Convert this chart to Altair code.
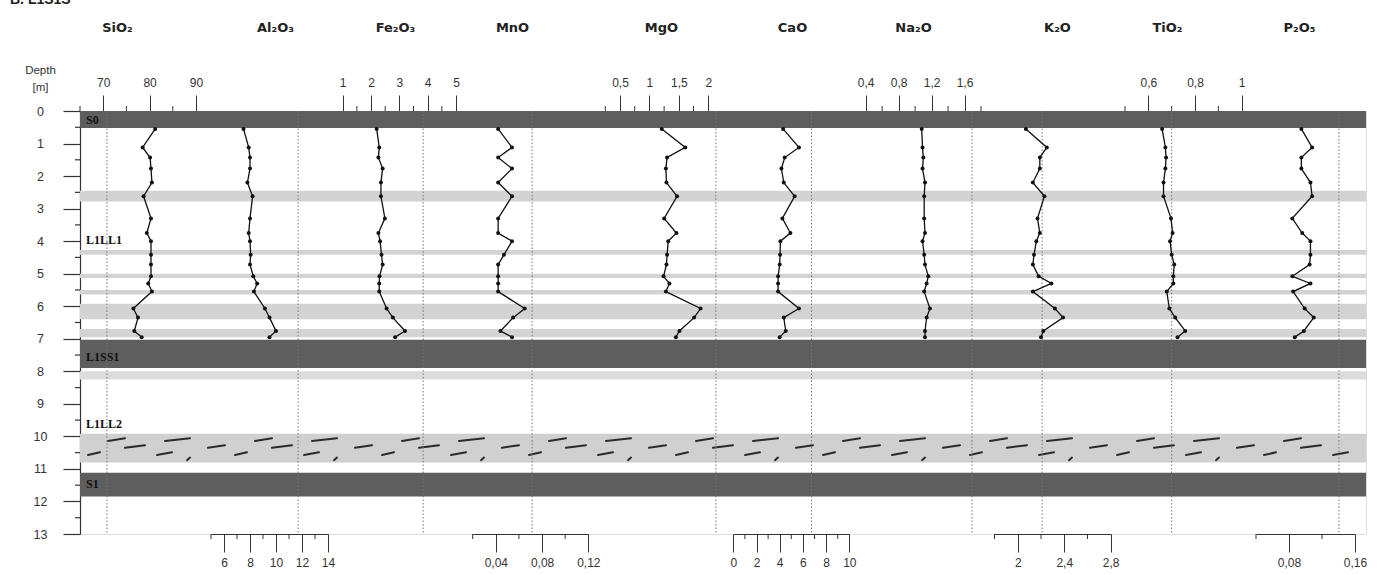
import altair as alt
import pandas as pd

# ------------------------------------------------------------------ data
DEPTHS = [0.55, 1.12, 1.43, 1.77, 2.2, 2.62, 3.3, 3.75, 4.0, 4.42, 4.72, 5.08, 5.3, 5.55, 6.07, 6.35, 6.76, 6.95]

SIO2 = [81.2, 78.5, 80.1, 80.3, 80.5, 78.7, 80.3, 79.4, 80.3, 80.3, 80.3, 80.3, 79.7, 80.5, 76.5, 77.5, 76.7, 78.3]
AL2O3 = [7.5, 7.9, 8.0, 8.0, 7.8, 8.2, 8.0, 7.9, 8.0, 8.05, 8.0, 8.25, 8.55, 8.3, 9.15, 9.5, 10.0, 9.5]
FE2O3 = [2.2, 2.29, 2.26, 2.41, 2.35, 2.35, 2.49, 2.26, 2.32, 2.37, 2.41, 2.3, 2.29, 2.29, 2.55, 2.77, 3.2, 2.85]
MNO = [0.042, 0.054, 0.042, 0.054, 0.042, 0.054, 0.042, 0.042, 0.054, 0.047, 0.042, 0.042, 0.042, 0.042, 0.065, 0.055, 0.044, 0.054]
MGO = [1.21, 1.61, 1.30, 1.28, 1.29, 1.47, 1.25, 1.46, 1.32, 1.30, 1.29, 1.24, 1.34, 1.28, 1.87, 1.76, 1.51, 1.45]
CAO = [4.29, 5.66, 4.43, 4.15, 4.35, 5.29, 4.23, 4.92, 4.06, 4.03, 4.0, 3.86, 3.86, 3.86, 5.66, 4.35, 4.52, 4.0]
NA2O = [1.08, 1.09, 1.10, 1.09, 1.12, 1.11, 1.11, 1.12, 1.09, 1.11, 1.12, 1.16, 1.14, 1.11, 1.18, 1.14, 1.12, 1.12]
K2O = [2.07, 2.25, 2.19, 2.19, 2.13, 2.23, 2.17, 2.19, 2.16, 2.14, 2.13, 2.18, 2.29, 2.13, 2.32, 2.39, 2.22, 2.20]
TIO2 = [0.659, 0.673, 0.676, 0.673, 0.665, 0.665, 0.697, 0.704, 0.693, 0.70, 0.711, 0.707, 0.707, 0.679, 0.690, 0.715, 0.758, 0.725]
P2O5 = [0.095, 0.108, 0.095, 0.095, 0.106, 0.108, 0.084, 0.096, 0.106, 0.106, 0.105, 0.084, 0.106, 0.085, 0.099, 0.110, 0.098, 0.087]

# reference (dotted) values per oxide
REF_VALUES = [70.8, 11.7, 3.84, 0.0714, 2.13, 6.74, 1.69, 2.21, 0.70, 0.1405]

# stratigraphic bands
BAND_TOP = [0.0, 2.45, 4.27, 5.0, 5.5, 5.92, 6.7, 7.03, 8.0, 9.92, 11.12]
BAND_BOTTOM = [0.52, 2.78, 4.42, 5.13, 5.64, 6.4, 6.95, 7.9, 8.25, 10.8, 11.85]
BAND_KIND = ["paleosol", "loess", "loess", "loess", "loess", "loess", "loess",
             "paleosol", "pale", "loam", "paleosol"]

LABEL_NAMES = ["S0", "L1LL1", "L1SS1", "L1LL2", "S1"]
LABEL_DEPTHS = [0.28, 3.95, 7.55, 9.63, 11.46]

DEPTH_MAJOR = list(range(14))
DEPTH_MINOR = [0.5, 1.5, 2.5, 3.5, 4.5, 5.5, 6.5, 7.5, 8.5, 9.5, 10.5, 11.5, 12.5]

HEADER = ["B. L1S1S"]

# ------------------------------------------------------------------ layout
LEFT, TOP, W, H = 80, 111, 1286, 423

OXIDES = [
    dict(title="SiO₂", values=SIO2, domain=[65, 90], px=[80, 196], major=[70, 80, 90], minor=[65, 75, 85], orient="top", tx=117),
    dict(title="Al₂O₃", values=AL2O3, domain=[5, 14], px=[211, 328], major=[6, 8, 10, 12, 14], minor=[5, 7, 9, 11, 13], orient="bottom", tx=275),
    dict(title="Fe₂O₃", values=FE2O3, domain=[1, 5], px=[342.7, 456], major=[1, 2, 3, 4, 5], minor=[1.5, 2.5, 3.5, 4.5], orient="top", tx=395),
    dict(title="MnO", values=MNO, domain=[0.02, 0.12], px=[472.7, 588.3], major=[0.04, 0.08, 0.12], minor=[0.02, 0.06, 0.10], orient="bottom", tx=512),
    dict(title="MgO", values=MGO, domain=[0.25, 2.2], px=[605.3, 720], major=[0.5, 1, 1.5, 2], minor=[0.25, 0.75, 1.25, 1.75], orient="top", tx=661),
    dict(title="CaO", values=CAO, domain=[0, 10], px=[733.3, 849.3], major=[0, 2, 4, 6, 8, 10], minor=[1, 3, 5, 7, 9], orient="bottom", tx=792),
    dict(title="Na₂O", values=NA2O, domain=[0.4, 1.8], px=[865.7, 981], major=[0.4, 0.8, 1.2, 1.6], minor=[0.6, 1.0, 1.4, 1.8], orient="top", tx=913),
    dict(title="K₂O", values=K2O, domain=[1.8, 2.8], px=[994.5, 1110.7], major=[2, 2.4, 2.8], minor=[1.8, 2.2, 2.6], orient="bottom", tx=1057),
    dict(title="TiO₂", values=TIO2, domain=[0.5, 1.0], px=[1125, 1241.7], major=[0.6, 0.8, 1], minor=[0.5, 0.7, 0.9], orient="top", tx=1167),
    dict(title="P₂O₅", values=P2O5, domain=[0.04, 0.16], px=[1256, 1355], major=[0.08, 0.16], minor=[0.04, 0.12], orient="bottom", tx=1299),
]

FONT = "Liberation Sans"
TITLE_FONT = "DejaVu Sans"
INK = "#222222"
YSCALE = alt.Scale(domain=[0, 13], reverse=True, nice=False, zero=False)


def oxide_layers(cfg, ref):
    top = cfg["orient"] == "top"

    def xs():
        return alt.Scale(domain=cfg["domain"], range=[cfg["px"][0] - LEFT, cfg["px"][1] - LEFT],
                         nice=False, zero=False)

    axis = alt.Axis(
        orient=cfg["orient"], values=cfg["major"],
        labelExpr="replace(format(datum.value, '~r'), '.', ',')",
        tickSize=16 if top else 18, labelPadding=6 if top else 5,
        domainColor="#333", tickColor="#333", domainWidth=1, tickWidth=1,
        labelColor="#333", labelFontSize=12, labelFont=FONT,
        labelFlush=False, labelOverlap=False, grid=False,
        title=cfg["title"], titleX=cfg["tx"] - LEFT,
        titleY=(27 - TOP) if top else (27 - TOP - H),
        titleAlign="center", titleBaseline="middle", titleAngle=0,
        titleFontSize=13, titleFontWeight="bold", titleColor=INK, titleFont=TITLE_FONT,
    )
    df = pd.DataFrame({"depth": DEPTHS, "value": cfg["values"]})
    refdf = pd.DataFrame({"value": [ref], "d0": [0], "d1": [13]})
    refline = alt.Chart(refdf).mark_rule(color="#777", strokeDash=[1.5, 2], strokeWidth=1).encode(
        x=alt.X("value:Q", scale=xs(), axis=None),
        y=alt.Y("d0:Q", scale=YSCALE, axis=None),
        y2="d1:Q",
    )
    line = alt.Chart(df).mark_line(color="#111", strokeWidth=1.3).encode(
        x=alt.X("value:Q", scale=xs(), axis=axis),
        y=alt.Y("depth:Q", scale=YSCALE, axis=None),
        order="depth:Q",
    )
    pts = alt.Chart(df).mark_circle(color="#111", size=16, opacity=1).encode(
        x=alt.X("value:Q", scale=xs(), axis=None),
        y=alt.Y("depth:Q", scale=YSCALE, axis=None),
    )
    mdf = pd.DataFrame({"value": cfg["minor"]})
    minor = alt.Chart(mdf).mark_rule(color="#333", strokeWidth=1).encode(
        x=alt.X("value:Q", scale=xs(), axis=None),
        y=alt.value(0 if top else H),
        y2=alt.value(-5 if top else H + 5),
    )
    return [refline, line, pts, minor]


# ------------------------------------------------------------------ bands
bands_df = pd.DataFrame({"top": BAND_TOP, "bottom": BAND_BOTTOM, "kind": BAND_KIND})
depth_axis = alt.Axis(
    values=DEPTH_MAJOR, tickSize=17, labelPadding=23, labelAlign="center",
    domainColor="#333", tickColor="#333", domainWidth=1.2, tickWidth=1.2,
    labelColor="#333", labelFontSize=12.5, labelFont=FONT, grid=False,
    labelOverlap=False, labelFlush=False,
    title=["Depth", "[m]"], titleX=-40, titleY=-38, titleAngle=0,
    titleAlign="center", titleBaseline="alphabetic", titleLineHeight=17,
    titleFontSize=11.5, titleFontWeight="normal", titleColor="#333", titleFont=FONT,
)
bands = alt.Chart(bands_df).mark_rect().encode(
    x=alt.value(0), x2=alt.value(W),
    y=alt.Y("top:Q", scale=YSCALE, axis=depth_axis),
    y2="bottom:Q",
    color=alt.Color("kind:N", legend=None,
                    scale=alt.Scale(domain=["paleosol", "loess", "pale", "loam"],
                                    range=["#5e5e5e", "#d3d3d3", "#dcdcdc", "#d0d0d0"])),
)

# loess-loam dash pattern (decorative repeating unit)
UNIT_X = [8, 28, 45, 77, 85, 107, 128]
UNIT_LEN = [12, 17, 20, 15, 25, 3, 17]
UNIT_ROW = [10.54, 10.11, 10.32, 10.54, 10.11, 10.7, 10.32]
PERIOD = 147
dx0, dx1, dy0, dy1 = [], [], [], []
for k in range(10):
    for ux, ul, ur in zip(UNIT_X, UNIT_LEN, UNIT_ROW):
        x0 = ux + k * PERIOD
        if x0 + ul < W - 4:
            dx0.append(x0)
            dx1.append(x0 + ul)
            dy0.append(ur + 0.03)
            dy1.append(ur - 0.05)
dash_df = pd.DataFrame({"x0": dx0, "x1": dx1, "y0": dy0, "y1": dy1})
pxscale = alt.Scale(domain=[0, W], range=[0, W], nice=False, zero=False)
dashes = alt.Chart(dash_df).mark_rule(color="#2a2a2a", strokeWidth=2, strokeCap="round").encode(
    x=alt.X("x0:Q", scale=pxscale, axis=None), x2="x1:Q",
    y=alt.Y("y0:Q", scale=YSCALE, axis=None), y2="y1:Q",
)

depth_minor = alt.Chart(pd.DataFrame({"depth": DEPTH_MINOR})).mark_rule(color="#333", strokeWidth=1.2).encode(
    y=alt.Y("depth:Q", scale=YSCALE, axis=None),
    x=alt.value(-5), x2=alt.value(0),
)

labels = alt.Chart(pd.DataFrame({"name": LABEL_NAMES, "depth": LABEL_DEPTHS})).mark_text(
    align="left", baseline="middle", font="Liberation Serif", fontWeight="bold",
    fontSize=12, color="#111",
).encode(
    x=alt.value(6),
    y=alt.Y("depth:Q", scale=YSCALE, axis=None),
    text="name:N",
)

header = alt.Chart(pd.DataFrame({"t": HEADER})).mark_text(
    align="left", baseline="alphabetic", font=FONT, fontWeight="bold", fontSize=14, color=INK,
).encode(x=alt.value(10 - LEFT), y=alt.value(4 - TOP), text="t:N")

layers = [bands, dashes, depth_minor, labels, header]
for cfg, ref in zip(OXIDES, REF_VALUES):
    layers.extend(oxide_layers(cfg, ref))

chart = alt.layer(*layers).resolve_scale(
    x="independent"
).resolve_axis(x="independent", y="independent").properties(
    width=W, height=H,
    padding={"left": LEFT, "top": TOP, "right": 1377 - LEFT - W, "bottom": 575 - TOP - H},
    autosize=alt.AutoSizeParams(type="none"),
).configure_view(strokeWidth=0).configure(background="white")

chart.save("out.html", embed_options={"renderer": "svg", "actions": False})
